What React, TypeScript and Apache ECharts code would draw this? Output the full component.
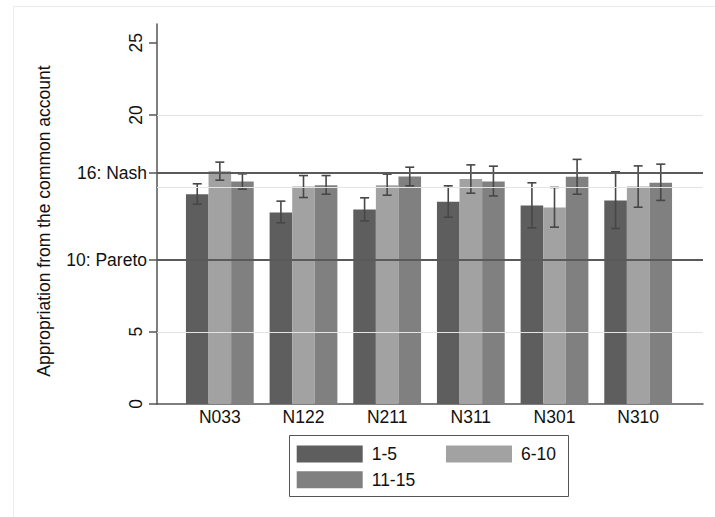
import React, { useEffect, useRef } from "react";
import * as echarts from "echarts";

const categories = ["N033", "N122", "N211", "N311", "N301", "N310"];
const seriesNames = ["1-5", "6-10", "11-15"];
const mean15 = [14.52, 13.25, 13.46, 13.99, 13.74, 14.09];
const mean610 = [16.11, 15.05, 15.14, 15.58, 13.6, 15.05];
const mean1115 = [15.4, 15.14, 15.75, 15.4, 15.72, 15.31];
const low15 = [13.83, 12.54, 12.68, 12.93, 12.19, 12.15];
const high15 = [15.24, 14.04, 14.27, 15.1, 15.31, 16.07];
const low610 = [15.49, 14.29, 14.45, 14.59, 12.24, 13.62];
const high610 = [16.74, 15.81, 15.91, 16.55, 14.99, 16.48];
const low1115 = [14.87, 14.52, 15.1, 14.4, 14.52, 14.09];
const high1115 = [15.93, 15.81, 16.39, 16.46, 16.93, 16.6];

const numericTickLabels = [0, 5, 20, 25];
const refValues = [10, 16];
const refLabels = ["10: Pareto", "16: Nash"];
const tickValues = [0, 5, 10, 16, 20, 25];
const gridValues = [5, 15, 20];
const yMax = 26.3;

const colors = ["#5e5e5e", "#a2a2a2", "#808080"];
const FONT = "'Liberation Sans', Arial, Helvetica, sans-serif";
const FS = 17.5;

export default function App() {
  const ref = useRef<HTMLDivElement>(null);
  useEffect(() => {
    if (!ref.current) return;
    const chart = echarts.init(ref.current, undefined, { renderer: "svg" });
    const means = [mean15, mean610, mean1115];
    const lows = [low15, low610, low1115];
    const highs = [high15, high610, high1115];
    const barFrac = 0.27;

    const barSeries = seriesNames.map((name, k) => ({
      name,
      type: "bar",
      xAxisIndex: 1,
      yAxisIndex: 2,
      data: means[k],
      barWidth: barFrac * 100 + "%",
      barGap: "0%",
      z: 2,
      itemStyle: { color: colors[k] },
    }));

    const errSeries = seriesNames.map((name, k) => ({
      name: name + " CI",
      type: "custom",
      xAxisIndex: 1,
      yAxisIndex: 2,
      z: 3,
      silent: true,
      data: categories.map((c, i) => [i, lows[k][i], highs[k][i]]),
      encode: { x: 0, y: [1, 2] },
      renderItem: (params: any, api: any) => {
        const bw = api.size([1, 0])[0];
        const off = (k - 1) * barFrac * bw;
        const x = api.coord([api.value(0), 0])[0] + off;
        const yl = api.coord([api.value(0), api.value(1)])[1];
        const yh = api.coord([api.value(0), api.value(2)])[1];
        const half = 4.5;
        const style = { stroke: "#474747", lineWidth: 1.6 };
        return {
          type: "group",
          children: [
            { type: "line", shape: { x1: x, y1: yl, x2: x, y2: yh }, style },
            { type: "line", shape: { x1: x - half, y1: yh, x2: x + half, y2: yh }, style },
            { type: "line", shape: { x1: x - half, y1: yl, x2: x + half, y2: yl }, style },
          ],
        };
      },
    }));

    const legendCommon = {
      left: 296.7,
      itemWidth: 66,
      itemHeight: 17,
      itemGap: 49,
      padding: 0,
      icon: "rect",
      selectedMode: false,
      textStyle: { fontSize: FS, color: "#111", fontFamily: FONT, padding: [0, 0, 0, 4] },
    };

    chart.setOption({
      animation: false,
      backgroundColor: "#ffffff",
      textStyle: { fontFamily: FONT },
      grid: [
        { left: 157, right: 12, top: 24, bottom: 113 },
        { left: 178, right: 35, top: 24, bottom: 113 },
      ],
      xAxis: [
        {
          gridIndex: 0,
          type: "value",
          min: 0,
          max: 1,
          axisLine: { show: true, lineStyle: { color: "#555", width: 1.5 } },
          axisTick: { show: false },
          axisLabel: { show: false },
          splitLine: { show: false },
        },
        {
          gridIndex: 1,
          type: "category",
          data: categories,
          axisLine: { show: false },
          axisTick: { show: false },
          axisLabel: { color: "#111", fontSize: FS, margin: 4, fontFamily: FONT },
          splitLine: { show: false },
        },
      ],
      yAxis: [
        {
          gridIndex: 0,
          type: "value",
          min: 0,
          max: yMax,
          position: "left",
          axisLine: { show: true, lineStyle: { color: "#555", width: 1.5 } },
          axisTick: { show: true, length: 8, customValues: tickValues, lineStyle: { color: "#555", width: 1.5 } },
          axisLabel: { customValues: numericTickLabels, rotate: 90, fontSize: FS, color: "#111", margin: 12, fontFamily: FONT },
          splitLine: { show: false },
          name: "Appropriation from the common account",
          nameLocation: "middle",
          nameGap: 104,
          nameTextStyle: { fontSize: FS, color: "#111", fontFamily: FONT, padding: [0, 14, 0, 0] },
        },
        {
          gridIndex: 0,
          type: "value",
          min: 0,
          max: yMax,
          position: "left",
          axisLine: { show: false },
          axisTick: { show: false },
          axisLabel: {
            customValues: refValues,
            fontSize: FS,
            color: "#111",
            margin: 10,
            fontFamily: FONT,
            formatter: (v: number) => {
              const idx = refValues.indexOf(v);
              return idx >= 0 ? refLabels[idx] : "";
            },
          },
          splitLine: { show: false },
        },
        { gridIndex: 1, type: "value", min: 0, max: yMax, show: false },
      ],
      legend: [
        { ...legendCommon, data: seriesNames.slice(0, 2), top: 445 },
        { ...legendCommon, data: seriesNames.slice(2), top: 470.7 },
      ],
      graphic: [
        {
          type: "rect",
          shape: { x: 13.5, y: 6.5, width: 720, height: 520 },
          style: { fill: "none", stroke: "#ececec", lineWidth: 1 },
          silent: true,
          z: -1,
        },
        {
          type: "rect",
          shape: { x: 289.5, y: 435.5, width: 279, height: 61 },
          style: { fill: "none", stroke: "#555", lineWidth: 1 },
          silent: true,
        },
      ],
      series: [
        {
          type: "line",
          name: "refs",
          xAxisIndex: 0,
          yAxisIndex: 0,
          data: [],
          z: 1,
          silent: true,
          markLine: {
            silent: true,
            symbol: ["none", "none"],
            label: { show: false },
            animation: false,
            data: [
              ...gridValues.map((v) => ({ yAxis: v, lineStyle: { color: "#e4e4e4", width: 1, type: "solid" } })),
              ...refValues.map((v) => ({ yAxis: v, lineStyle: { color: "#5a5a5a", width: 2, type: "solid" } })),
            ],
          },
        },
        ...barSeries,
        ...errSeries,
      ],
    });
    return () => chart.dispose();
  }, []);
  return (
    <div
      ref={ref}
      style={{ position: "fixed", left: 0, top: 0, width: 715, height: 517, background: "#fff" }}
    />
  );
}
